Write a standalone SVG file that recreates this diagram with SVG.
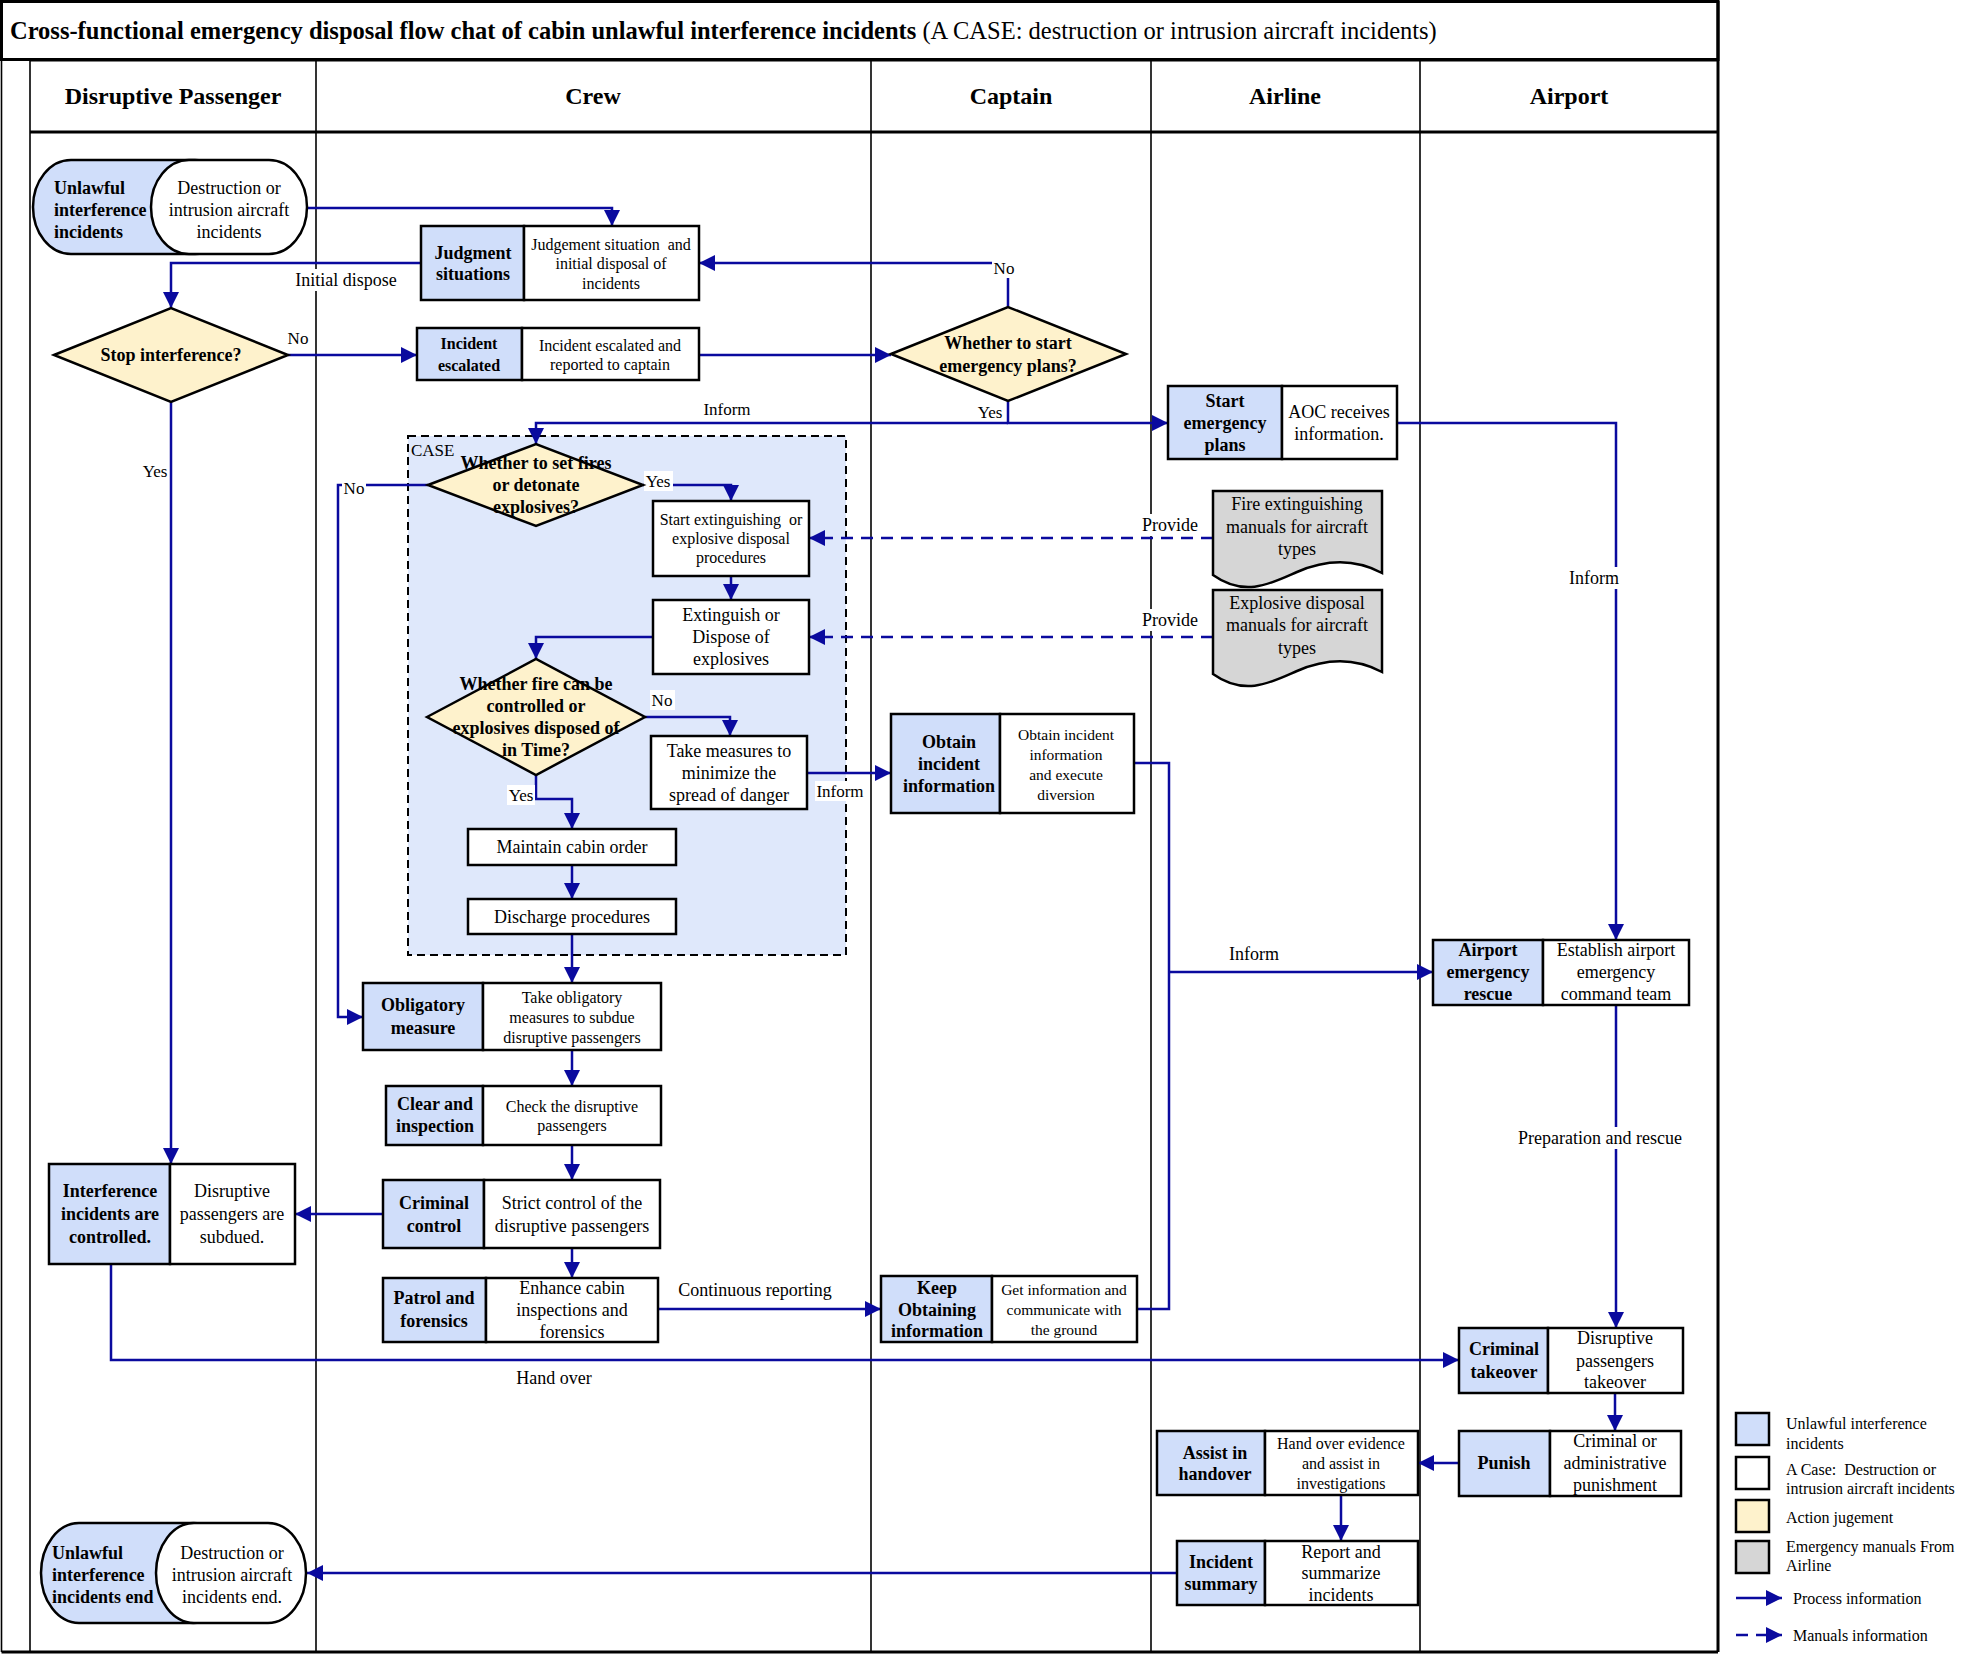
<svg xmlns="http://www.w3.org/2000/svg" width="1961" height="1656" viewBox="0 0 1961 1656">
<style>
text{font-family:"Liberation Serif","Times New Roman",serif;fill:#000;dominant-baseline:central}
.m{text-anchor:middle}
.bd{font-weight:bold}
.f15{font-size:15.5px}.f16{font-size:16px}.f17{font-size:17px}.f18{font-size:18px}.f24{font-size:24px}
.w{fill:#fff;stroke:#000;stroke-width:2.5}
.bl{fill:#D0DEFA;stroke:#000;stroke-width:2.5}
.dm{fill:#FEF2CC;stroke:#000;stroke-width:2.5}
.gr{fill:#D6D6D6;stroke:#000;stroke-width:2.5}
.ln{stroke:#000;stroke-width:1.6;fill:none}
.th{stroke:#000;stroke-width:3;fill:none}
.c{fill:none;stroke:#0A0A9E;stroke-width:2.5;marker-end:url(#ah)}
.cn{fill:none;stroke:#0A0A9E;stroke-width:2.5}
.cd{fill:none;stroke:#0A0A9E;stroke-width:2.5;stroke-dasharray:12 8;marker-end:url(#ah)}
.lb{fill:#fff}
</style>
<defs>
<marker id="ah" viewBox="0 0 16 16" markerWidth="16" markerHeight="16" refX="16" refY="8" orient="auto" markerUnits="userSpaceOnUse"><path d="M0,0 L16,8 L0,16 z" fill="#0A0A9E"/></marker>
</defs>
<rect width="1961" height="1656" fill="#fff"/>
<g id="frame">
<rect x="1.5" y="1.5" width="1716.5" height="58" class="th" fill="none"/>
<line x1="1.5" y1="60" x2="1.5" y2="1652" class="ln"/>
<line x1="30" y1="60" x2="30" y2="1652" class="ln"/>
<line x1="30" y1="60" x2="1718" y2="60" class="th"/>
<line x1="30" y1="132" x2="1718" y2="132" class="th"/>
<line x1="316" y1="60" x2="316" y2="1652" class="ln"/>
<line x1="871" y1="60" x2="871" y2="1652" class="ln"/>
<line x1="1151" y1="60" x2="1151" y2="1652" class="ln"/>
<line x1="1420" y1="60" x2="1420" y2="1652" class="ln"/>
<line x1="1718" y1="1" x2="1718" y2="1652" class="th"/>
<line x1="1.5" y1="1652" x2="1718" y2="1652" class="th"/>
<text x="10" y="30" font-size="24.5"><tspan font-weight="bold">Cross-functional emergency disposal flow chat of cabin unlawful interference incidents</tspan> (A CASE: destruction or intrusion aircraft incidents)</text>
<text x="173" y="96" class="m bd f24">Disruptive Passenger</text>
<text x="593" y="96" class="m bd f24">Crew</text>
<text x="1011" y="96" class="m bd f24">Captain</text>
<text x="1285" y="96" class="m bd f24">Airline</text>
<text x="1569" y="96" class="m bd f24">Airport</text>
</g>
<g id="case">
<rect x="408" y="436" width="438" height="519" fill="#DFE8FB" stroke="#000" stroke-width="2" stroke-dasharray="8 5"/>
<text x="411" y="450" class="f17">CASE</text>
</g>
<g id="connectors">
<path class="c" d="M307,208 H612 V226"/>
<path class="c" d="M421,263 H171 V308"/>
<path class="c" d="M288,355 H417"/>
<path class="c" d="M699,355 H891"/>
<path class="c" d="M1008,307 V263 H699"/>
<path class="c" d="M1008,401 V423 H1168"/>
<path class="c" d="M1008,423 H536 V444"/>
<path class="c" d="M171,402 V1164"/>
<path class="c" d="M1397,423 H1616 V940"/>
<path class="c" d="M428,485 H338 V1017 H363"/>
<path class="c" d="M643,485 H731 V501"/>
<path class="c" d="M731,576 V600"/>
<path class="c" d="M653,637 H536 V659"/>
<path class="c" d="M645,717 H730 V736"/>
<path class="c" d="M536,775 V799 H572 V829"/>
<path class="c" d="M572,865 V899"/>
<path class="c" d="M572,934 V983"/>
<path class="c" d="M807,773 H891"/>
<path class="c" d="M572,1050 V1086"/>
<path class="c" d="M572,1145 V1180"/>
<path class="c" d="M383,1214 H295"/>
<path class="c" d="M572,1248 V1278"/>
<path class="c" d="M658,1309 H881"/>
<path class="cn" d="M1134,763 H1169 V1309 H1137"/>
<path class="c" d="M1169,972 H1433"/>
<path class="c" d="M1616,1005 V1328"/>
<path class="c" d="M111,1264 V1360 H1459"/>
<path class="c" d="M1615,1393 V1431"/>
<path class="c" d="M1459,1463 H1418"/>
<path class="c" d="M1341,1495 V1541"/>
<path class="c" d="M1177,1573 H307"/>
<path class="cd" d="M1213,538 H809"/>
<path class="cd" d="M1213,637 H809"/>
<rect class="lb" x="294" y="269" width="104" height="22"/><text x="346" y="280" class="m f18">Initial dispose</text>
<text x="298" y="338" class="m f17">No</text>
<rect class="lb" x="992" y="258" width="24" height="20"/><text x="1004" y="268" class="m f17">No</text>
<text x="990" y="412" class="m f17">Yes</text>
<text x="727" y="409" class="m f17">Inform</text>
<text x="155" y="471" class="m f17">Yes</text>
<rect class="lb" x="342" y="478" width="24" height="20"/><text x="354" y="488" class="m f17">No</text>
<rect class="lb" x="644" y="471" width="29" height="20"/><text x="658" y="481" class="m f17">Yes</text>
<rect class="lb" x="650" y="690" width="25" height="20"/><text x="662" y="700" class="m f17">No</text>
<rect class="lb" x="507" y="785" width="28" height="20"/><text x="521" y="795" class="m f17">Yes</text>
<rect class="lb" x="815" y="781" width="51" height="20"/><text x="840" y="791" class="m f17">Inform</text>
<rect class="lb" x="1142" y="514" width="57" height="22"/><text x="1170" y="525" class="m f18">Provide</text>
<rect class="lb" x="1142" y="609" width="57" height="22"/><text x="1170" y="620" class="m f18">Provide</text>
<rect class="lb" x="1568" y="567" width="52" height="22"/><text x="1594" y="578" class="m f18">Inform</text>
<text x="1254" y="954" class="m f18">Inform</text>
<rect class="lb" x="1514" y="1127" width="172" height="22"/><text x="1600" y="1138" class="m f18">Preparation and rescue</text>
<text x="755" y="1290" class="m f18">Continuous reporting</text>
<text x="554" y="1378" class="m f18">Hand over</text>
</g>
<g id="start">
<rect x="33" y="160" width="200" height="94" rx="38" ry="47" class="bl"/>
<rect x="151" y="160" width="156" height="94" rx="38" ry="47" class="w"/>
<text x="54" y="188" class="bd f18">Unlawful</text>
<text x="54" y="210" class="bd f18">interference</text>
<text x="54" y="232" class="bd f18">incidents</text>
<text x="229" y="188" class="m f18">Destruction or</text>
<text x="229" y="210" class="m f18">intrusion aircraft</text>
<text x="229" y="232" class="m f18">incidents</text>
</g>
<g id="judgment">
<rect x="421" y="226" width="103" height="74" class="bl"/><rect x="524" y="226" width="175" height="74" class="w"/>
<text x="473" y="253" class="m bd f18">Judgment</text><text x="473" y="274" class="m bd f18">situations</text>
<text x="611" y="244" class="m f16" xml:space="preserve">Judgement situation  and</text><text x="611" y="263" class="m f16">initial disposal of</text><text x="611" y="283" class="m f16">incidents</text>
</g>
<g id="stop">
<path d="M54,355 L171,308 L288,355 L171,402 Z" class="dm"/>
<text x="171" y="355" class="m bd f18">Stop interference?</text>
</g>
<g id="escalated">
<rect x="417" y="328" width="105" height="52" class="bl"/><rect x="522" y="328" width="177" height="52" class="w"/>
<text x="469" y="343" class="m bd f16">Incident</text><text x="469" y="365" class="m bd f16">escalated</text>
<text x="610" y="345" class="m f16">Incident escalated and</text><text x="610" y="364" class="m f16">reported to captain</text>
</g>
<g id="startplans">
<path d="M891,354 L1008,307 L1126,354 L1008,401 Z" class="dm"/>
<text x="1008" y="343" class="m bd f18">Whether to start</text><text x="1008" y="366" class="m bd f18">emergency plans?</text>
</g>
<g id="emergency">
<rect x="1168" y="386" width="114" height="73" class="bl"/><rect x="1282" y="386" width="115" height="73" class="w"/>
<text x="1225" y="401" class="m bd f18">Start</text><text x="1225" y="423" class="m bd f18">emergency</text><text x="1225" y="445" class="m bd f18">plans</text>
<text x="1339" y="412" class="m f18">AOC receives</text><text x="1339" y="434" class="m f18">information.</text>
</g>
<g id="setfires">
<path d="M428,485 L536,444 L643,485 L536,526 Z" class="dm"/>
<text x="536" y="463" class="m bd f18">Whether to set fires</text><text x="536" y="485" class="m bd f18">or detonate</text><text x="536" y="507" class="m bd f18">explosives?</text>
</g>
<g id="startext">
<rect x="653" y="501" width="156" height="75" class="w"/>
<text x="731" y="519" class="m f16" xml:space="preserve">Start extinguishing  or</text><text x="731" y="538" class="m f16">explosive disposal</text><text x="731" y="557" class="m f16">procedures</text>
</g>
<g id="extinguish">
<rect x="653" y="600" width="156" height="74" class="w"/>
<text x="731" y="615" class="m f18">Extinguish or</text><text x="731" y="637" class="m f18">Dispose of</text><text x="731" y="659" class="m f18">explosives</text>
</g>
<g id="controlled">
<path d="M427,717 L536,659 L645,717 L536,775 Z" class="dm"/>
<text x="536" y="684" class="m bd f18">Whether fire can be</text><text x="536" y="706" class="m bd f18">controlled or</text><text x="536" y="728" class="m bd f18">explosives disposed of</text><text x="536" y="750" class="m bd f18">in Time?</text>
</g>
<g id="takemeasures">
<rect x="651" y="736" width="156" height="73" class="w"/>
<text x="729" y="751" class="m f18">Take measures to</text><text x="729" y="773" class="m f18">minimize the</text><text x="729" y="795" class="m f18">spread of danger</text>
</g>
<g id="maintain">
<rect x="468" y="829" width="208" height="36" class="w"/>
<text x="572" y="847" class="m f18">Maintain cabin order</text>
</g>
<g id="discharge">
<rect x="468" y="899" width="208" height="35" class="w"/>
<text x="572" y="916.5" class="m f18">Discharge procedures</text>
</g>
<g id="obligatory">
<rect x="363" y="983" width="120" height="67" class="bl"/><rect x="483" y="983" width="178" height="67" class="w"/>
<text x="423" y="1005" class="m bd f18">Obligatory</text><text x="423" y="1028" class="m bd f18">measure</text>
<text x="572" y="997" class="m f16">Take obligatory</text><text x="572" y="1017" class="m f16">measures to subdue</text><text x="572" y="1037" class="m f16">disruptive passengers</text>
</g>
<g id="clear">
<rect x="386" y="1086" width="97" height="59" class="bl"/><rect x="483" y="1086" width="178" height="59" class="w"/>
<text x="435" y="1104" class="m bd f18">Clear and</text><text x="435" y="1126" class="m bd f18">inspection</text>
<text x="572" y="1106" class="m f16">Check the disruptive</text><text x="572" y="1125" class="m f16">passengers</text>
</g>
<g id="criminalcontrol">
<rect x="383" y="1180" width="101" height="68" class="bl"/><rect x="484" y="1180" width="176" height="68" class="w"/>
<text x="434" y="1203" class="m bd f18">Criminal</text><text x="434" y="1226" class="m bd f18">control</text>
<text x="572" y="1203" class="m f18">Strict control of the</text><text x="572" y="1226" class="m f18">disruptive passengers</text>
</g>
<g id="patrol">
<rect x="383" y="1278" width="103" height="64" class="bl"/><rect x="486" y="1278" width="172" height="64" class="w"/>
<text x="434" y="1298" class="m bd f18">Patrol and</text><text x="434" y="1321" class="m bd f18">forensics</text>
<text x="572" y="1288" class="m f18">Enhance cabin</text><text x="572" y="1310" class="m f18">inspections and</text><text x="572" y="1332" class="m f18">forensics</text>
</g>
<g id="controlledbox">
<rect x="49" y="1164" width="121" height="100" class="bl"/><rect x="170" y="1164" width="125" height="100" class="w"/>
<text x="110" y="1191" class="m bd f18">Interference</text><text x="110" y="1214" class="m bd f18">incidents are</text><text x="110" y="1237" class="m bd f18">controlled.</text>
<text x="232" y="1191" class="m f18">Disruptive</text><text x="232" y="1214" class="m f18">passengers are</text><text x="232" y="1237" class="m f18">subdued.</text>
</g>
<g id="obtain">
<rect x="891" y="714" width="109" height="99" class="bl"/><rect x="1000" y="714" width="134" height="99" class="w"/>
<text x="949" y="742" class="m bd f18">Obtain</text><text x="949" y="764" class="m bd f18">incident</text><text x="949" y="786" class="m bd f18">information</text>
<text x="1066" y="734" class="m f15">Obtain incident</text><text x="1066" y="754" class="m f15">information</text><text x="1066" y="774" class="m f15">and execute</text><text x="1066" y="794" class="m f15">diversion</text>
</g>
<g id="keep">
<rect x="881" y="1276" width="111" height="66" class="bl"/><rect x="992" y="1276" width="145" height="66" class="w"/>
<text x="937" y="1288" class="m bd f18">Keep</text><text x="937" y="1310" class="m bd f18">Obtaining</text><text x="937" y="1331" class="m bd f18">information</text>
<text x="1064" y="1289" class="m f15">Get information and</text><text x="1064" y="1309" class="m f15">communicate with</text><text x="1064" y="1329" class="m f15">the ground</text>
</g>
<g id="doc1">
<path d="M1213,491 H1382 V573 C1350,556 1320,562 1297,572 C1272,583 1245,598 1213,575 Z" class="gr"/>
<text x="1297" y="504" class="m f18">Fire extinguishing</text><text x="1297" y="527" class="m f18">manuals for aircraft</text><text x="1297" y="549" class="m f18">types</text>
</g>
<g id="doc2">
<path d="M1213,590 H1382 V672 C1350,655 1320,661 1297,671 C1272,682 1245,697 1213,674 Z" class="gr"/>
<text x="1297" y="603" class="m f18">Explosive disposal</text><text x="1297" y="625" class="m f18">manuals for aircraft</text><text x="1297" y="648" class="m f18">types</text>
</g>
<g id="airportrescue">
<rect x="1433" y="940" width="110" height="65" class="bl"/><rect x="1543" y="940" width="146" height="65" class="w"/>
<text x="1488" y="950" class="m bd f18">Airport</text><text x="1488" y="972" class="m bd f18">emergency</text><text x="1488" y="994" class="m bd f18">rescue</text>
<text x="1616" y="950" class="m f18">Establish airport</text><text x="1616" y="972" class="m f18">emergency</text><text x="1616" y="994" class="m f18">command team</text>
</g>
<g id="takeover">
<rect x="1459" y="1328" width="89" height="65" class="bl"/><rect x="1548" y="1328" width="135" height="65" class="w"/>
<text x="1504" y="1349" class="m bd f18">Criminal</text><text x="1504" y="1372" class="m bd f18">takeover</text>
<text x="1615" y="1338" class="m f18">Disruptive</text><text x="1615" y="1361" class="m f18">passengers</text><text x="1615" y="1382" class="m f18">takeover</text>
</g>
<g id="punish">
<rect x="1459" y="1431" width="91" height="65" class="bl"/><rect x="1550" y="1431" width="131" height="65" class="w"/>
<text x="1504" y="1463" class="m bd f18">Punish</text>
<text x="1615" y="1441" class="m f18">Criminal or</text><text x="1615" y="1463" class="m f18">administrative</text><text x="1615" y="1485" class="m f18">punishment</text>
</g>
<g id="assist">
<rect x="1157" y="1431" width="108" height="64" class="bl"/><rect x="1265" y="1431" width="153" height="64" class="w"/>
<text x="1215" y="1453" class="m bd f18">Assist in</text><text x="1215" y="1474" class="m bd f18">handover</text>
<text x="1341" y="1443" class="m f16">Hand over evidence</text><text x="1341" y="1463" class="m f16">and assist in</text><text x="1341" y="1483" class="m f16">investigations</text>
</g>
<g id="summary">
<rect x="1177" y="1541" width="88" height="64" class="bl"/><rect x="1265" y="1541" width="153" height="64" class="w"/>
<text x="1221" y="1562" class="m bd f18">Incident</text><text x="1221" y="1584" class="m bd f18">summary</text>
<text x="1341" y="1552" class="m f18">Report and</text><text x="1341" y="1573" class="m f18">summarize</text><text x="1341" y="1595" class="m f18">incidents</text>
</g>
<g id="end">
<rect x="41" y="1523" width="190" height="100" rx="38" ry="50" class="bl"/>
<rect x="156" y="1523" width="150" height="100" rx="38" ry="50" class="w"/>
<text x="52" y="1553" class="bd f18">Unlawful</text>
<text x="52" y="1575" class="bd f18">interference</text>
<text x="52" y="1597" class="bd f18">incidents end</text>
<text x="232" y="1553" class="m f18">Destruction or</text>
<text x="232" y="1575" class="m f18">intrusion aircraft</text>
<text x="232" y="1597" class="m f18">incidents end.</text>
</g>
<g id="legend">
<rect x="1736" y="1413" width="33" height="32" class="bl"/>
<rect x="1736" y="1457" width="33" height="32" class="w"/>
<rect x="1736" y="1500" width="33" height="32" class="dm"/>
<rect x="1736" y="1541" width="33" height="32" class="gr"/>
<text x="1786" y="1423" class="f16">Unlawful interference</text>
<text x="1786" y="1443" class="f16">incidents</text>
<text x="1786" y="1469" class="f16" xml:space="preserve">A Case:  Destruction or</text>
<text x="1786" y="1488" class="f16">intrusion aircraft incidents</text>
<text x="1786" y="1517" class="f16">Action jugement</text>
<text x="1786" y="1546" class="f16">Emergency manuals From</text>
<text x="1786" y="1565" class="f16">Airline</text>
<path class="c" d="M1736,1598 H1782"/>
<path class="cd" d="M1736,1635 H1782" stroke-dasharray="9 6"/>
<text x="1793" y="1598" class="f16">Process information</text>
<text x="1793" y="1635" class="f16">Manuals information</text>
</g>
</svg>
